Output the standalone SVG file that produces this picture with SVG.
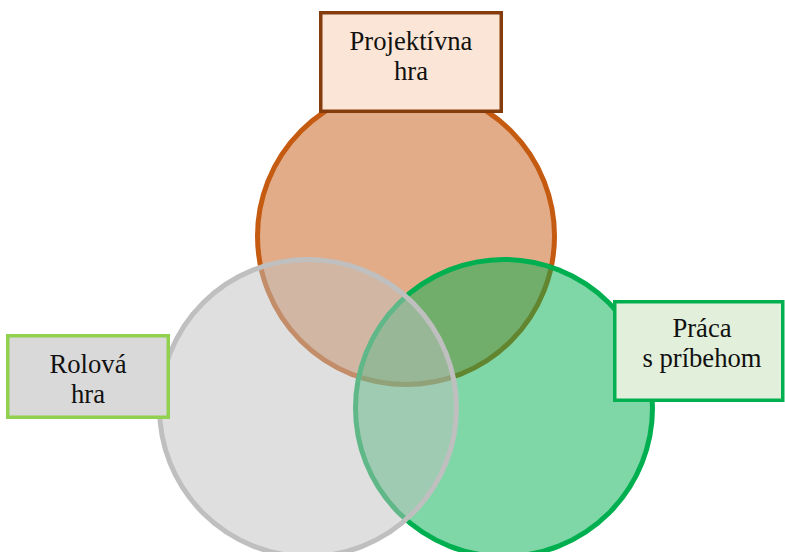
<svg xmlns="http://www.w3.org/2000/svg" width="785" height="552" viewBox="0 0 785 552">
<style>
.c{stroke-width:5}
.b{stroke-width:3.5}
.t{font-family:"Liberation Serif","Times New Roman",serif;font-size:26.67px;fill:#111;text-anchor:middle}
</style>
<rect width="785" height="552" fill="#ffffff"/>
<g id="circles">
<circle id="c-proj" class="c" cx="406" cy="236" r="148.5" fill="#c55a11" fill-opacity="0.5" stroke="#c55a11"/>
<circle id="c-prac" class="c" cx="504" cy="408" r="148.5" fill="#00b050" fill-opacity="0.5" stroke="#00b050"/>
<circle id="c-rol" class="c" cx="308" cy="408" r="148.5" fill="#bfbfbf" fill-opacity="0.5" stroke="#bfbfbf"/>
</g>
<g id="connectors"></g>
<g id="n-proj">
<rect class="b" x="320.75" y="12.75" width="180.5" height="98.5" fill="#fbe5d6" stroke="#843c0c"/>
<text class="t" x="411" y="50">Projektívna</text>
<text class="t" x="411" y="80">hra</text>
</g>
<g id="n-rol">
<rect class="b" x="7.75" y="335.75" width="160.5" height="81.5" fill="#d9d9d9" stroke="#92d050"/>
<text class="t" x="88" y="373">Rolová</text>
<text class="t" x="88" y="403">hra</text>
</g>
<g id="n-prac">
<rect class="b" x="614.75" y="301.75" width="168" height="98.5" fill="#e2efda" stroke="#00b050"/>
<text class="t" x="702" y="337">Práca</text>
<text class="t" x="702" y="367">s príbehom</text>
</g>
</svg>
